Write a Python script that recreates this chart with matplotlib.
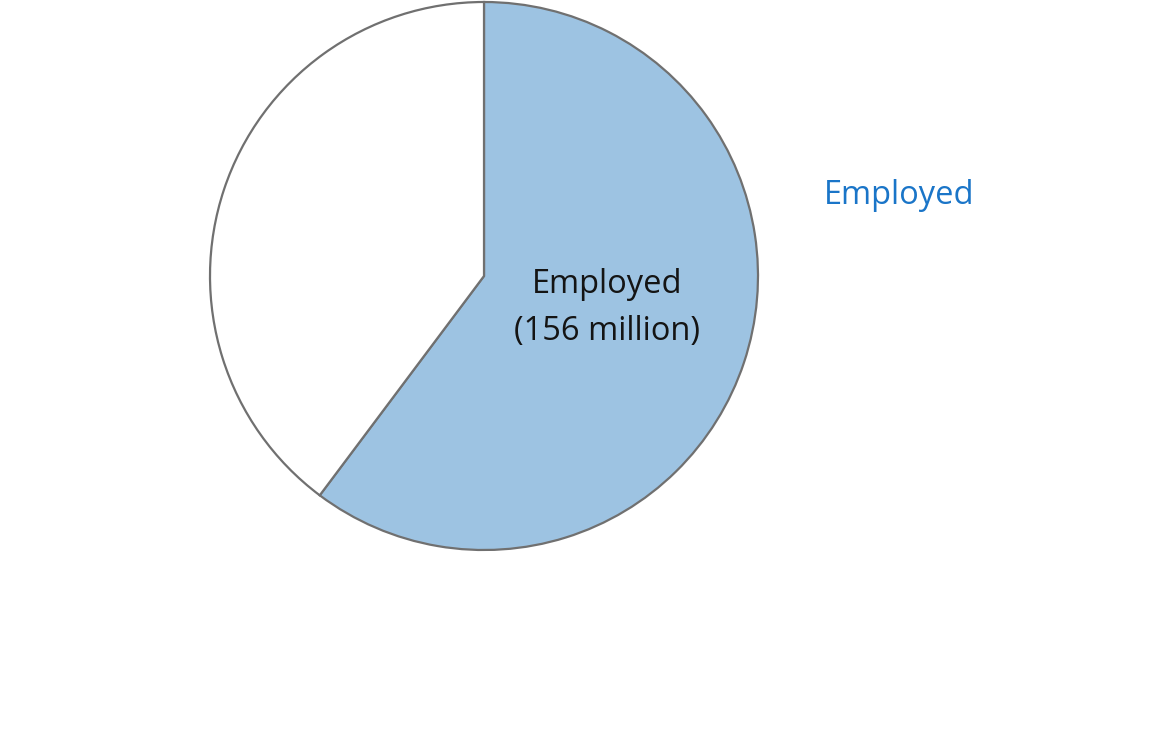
import matplotlib.pyplot as plt

# values in millions (the second slice is unlabelled in the picture)
labels = ['Employed', '']
values = [156, 103]
colors = ['#9dc3e2', 'white']

plt.rcParams['font.family'] = ['Open Sans', 'DejaVu Sans']

fig = plt.figure(figsize=(11.72, 7.47), dpi=100)
ax = fig.add_axes([0, 0, 1, 1])

ax.pie(values, colors=colors, startangle=90, counterclock=False,
       center=(484, 471), radius=274, frame=True,
       wedgeprops=dict(edgecolor='#707070', linewidth=1.6))
ax.set_xlim(0, 1172)
ax.set_ylim(0, 747)
ax.set_aspect('equal')
ax.axis('off')

ax.text(607, 439, f'{labels[0]}\n({values[0]} million)', ha='center', va='center',
        fontsize=23.5, color='#141414', linespacing=1.55)
ax.text(899, 552, 'Employed', ha='center', va='center',
        fontsize=23.5, color='#1a75c8')

fig.savefig('out.png', dpi=100)
